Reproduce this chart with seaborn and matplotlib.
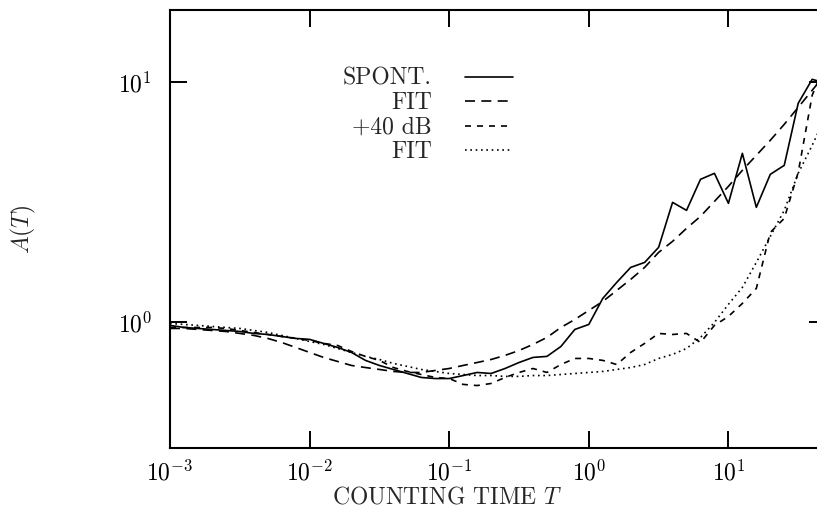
import numpy as np
import pandas as pd
import matplotlib
matplotlib.use("Agg")
import matplotlib.pyplot as plt
from matplotlib.ticker import FixedLocator, FuncFormatter, NullLocator
import seaborn as sns

# counting time T, given as log10(T)
log_t = [-3.0, -2.9, -2.8, -2.7, -2.6, -2.5, -2.4, -2.3, -2.2, -2.1,
         -2.0, -1.9, -1.8, -1.7, -1.6, -1.5, -1.4, -1.3, -1.2, -1.1,
         -1.0, -0.9, -0.8, -0.7, -0.6, -0.5, -0.4, -0.3, -0.2, -0.1,
         0.0, 0.1, 0.2, 0.3, 0.4, 0.5, 0.6, 0.7, 0.8, 0.9,
         1.0, 1.1, 1.2, 1.3, 1.4, 1.5, 1.6, 1.7]

# A(T), spontaneous emission
spont = [0.972, 0.953, 0.944, 0.935, 0.926, 0.917, 0.900, 0.891, 0.874, 0.858,
         0.850, 0.818, 0.787, 0.750, 0.695, 0.662, 0.637, 0.613, 0.590, 0.584,
         0.584, 0.601, 0.619, 0.613, 0.643, 0.681, 0.715, 0.722, 0.794, 0.935,
         0.981, 1.259, 1.468, 1.695, 1.778, 2.054, 3.162, 2.929, 3.944, 4.177,
         3.133, 5.060, 3.015, 4.137, 4.510, 8.178, 10.29, 9.90]

spont_fit = [0.944, 0.944, 0.935, 0.926, 0.917, 0.900, 0.883, 0.858, 0.825, 0.787,
             0.750, 0.715, 0.688, 0.662, 0.649, 0.637, 0.625, 0.619, 0.619, 0.631,
             0.643, 0.662, 0.681, 0.701, 0.729, 0.764, 0.810, 0.866, 0.953, 1.029,
             1.122, 1.223, 1.359, 1.511, 1.695, 1.957, 2.176, 2.465, 2.765, 3.192,
             3.687, 4.299, 4.964, 5.733, 6.683, 7.866, 9.261, 10.90]

# A(T), +40 dB
db40 = [0.953, 0.953, 0.953, 0.953, 0.944, 0.926, 0.909, 0.891, 0.874, 0.858,
        0.841, 0.818, 0.802, 0.757, 0.722, 0.695, 0.649, 0.625, 0.607, 0.590,
        0.584, 0.552, 0.546, 0.557, 0.590, 0.619, 0.643, 0.619, 0.668, 0.708,
        0.708, 0.695, 0.668, 0.750, 0.818, 0.900, 0.891, 0.900, 0.825, 0.972,
        1.059, 1.200, 1.386, 2.371, 2.712, 4.217, 8.827, 12.12]

db40_fit = [0.990, 0.981, 0.972, 0.962, 0.953, 0.944, 0.926, 0.909, 0.883, 0.858,
            0.833, 0.810, 0.779, 0.750, 0.722, 0.701, 0.675, 0.656, 0.637, 0.625,
            0.613, 0.607, 0.601, 0.601, 0.596, 0.596, 0.601, 0.601, 0.607, 0.613,
            0.619, 0.625, 0.637, 0.649, 0.668, 0.708, 0.736, 0.779, 0.866, 1.000,
            1.189, 1.399, 1.778, 2.282, 2.929, 4.177, 5.464, 7.288]

labels = ["SPONT.", "FIT", "+40 dB", "FIT"]
x_ticks = [1e-3, 1e-2, 1e-1, 1e0, 1e1]
y_ticks = [1e0, 1e1]

sns.set_theme(style="ticks")
plt.rcParams["font.family"] = ["cmr10", "DejaVu Serif"]
plt.rcParams["mathtext.fontset"] = "cm"
plt.rcParams["axes.unicode_minus"] = False

FS = 17

df = pd.DataFrame({"T": 10 ** np.array(log_t)})
series = [spont, spont_fit, db40, db40_fit]
styles = ["-", (0, (6, 3.8)), (0, (3.6, 3.6)), (0, (1.0, 2.2))]

fig = plt.figure(figsize=(8.17, 5.13), dpi=100)
ax = fig.add_axes([0.2081, 0.1267, 0.8029, 0.8538])

for vals, lab, ls in zip(series, labels, styles):
    sns.lineplot(x=df["T"], y=vals, ax=ax, color="black", lw=1.2,
                 linestyle=ls, label=lab)

ax.set_xscale("log")
ax.set_yscale("log")
ax.set_xlim(1e-3, 50)
ax.set_ylim(0.3, 20)

fmt = FuncFormatter(lambda v, _: "$10^{%d}$" % int(round(np.log10(v))))
ax.xaxis.set_major_locator(FixedLocator(x_ticks))
ax.yaxis.set_major_locator(FixedLocator(y_ticks))
ax.xaxis.set_major_formatter(fmt)
ax.yaxis.set_major_formatter(fmt)
ax.xaxis.set_minor_locator(NullLocator())
ax.yaxis.set_minor_locator(NullLocator())
ax.tick_params(which="major", direction="in", length=12, width=1.4,
               top=True, right=True, labelsize=FS, colors="black")
ax.tick_params(axis="x", pad=9)
ax.tick_params(axis="y", pad=13)
for s in ax.spines.values():
    s.set_linewidth(1.5)
    s.set_color("black")

ax.set_xlabel("COUNTING TIME $T$", fontsize=FS)
ax.xaxis.set_label_coords(0.422, -0.088)
ax.set_ylabel("$A(T)$", fontsize=FS)
ax.yaxis.set_label_coords(-0.201, 0.5)

ax.legend(loc="upper right", bbox_to_anchor=(0.523, 0.868), frameon=False,
          markerfirst=False, handlelength=2.05, handletextpad=1.4,
          labelspacing=0.1, borderpad=0, borderaxespad=0, fontsize=FS)

ax.grid(False)
fig.savefig("out.png", dpi=100)
